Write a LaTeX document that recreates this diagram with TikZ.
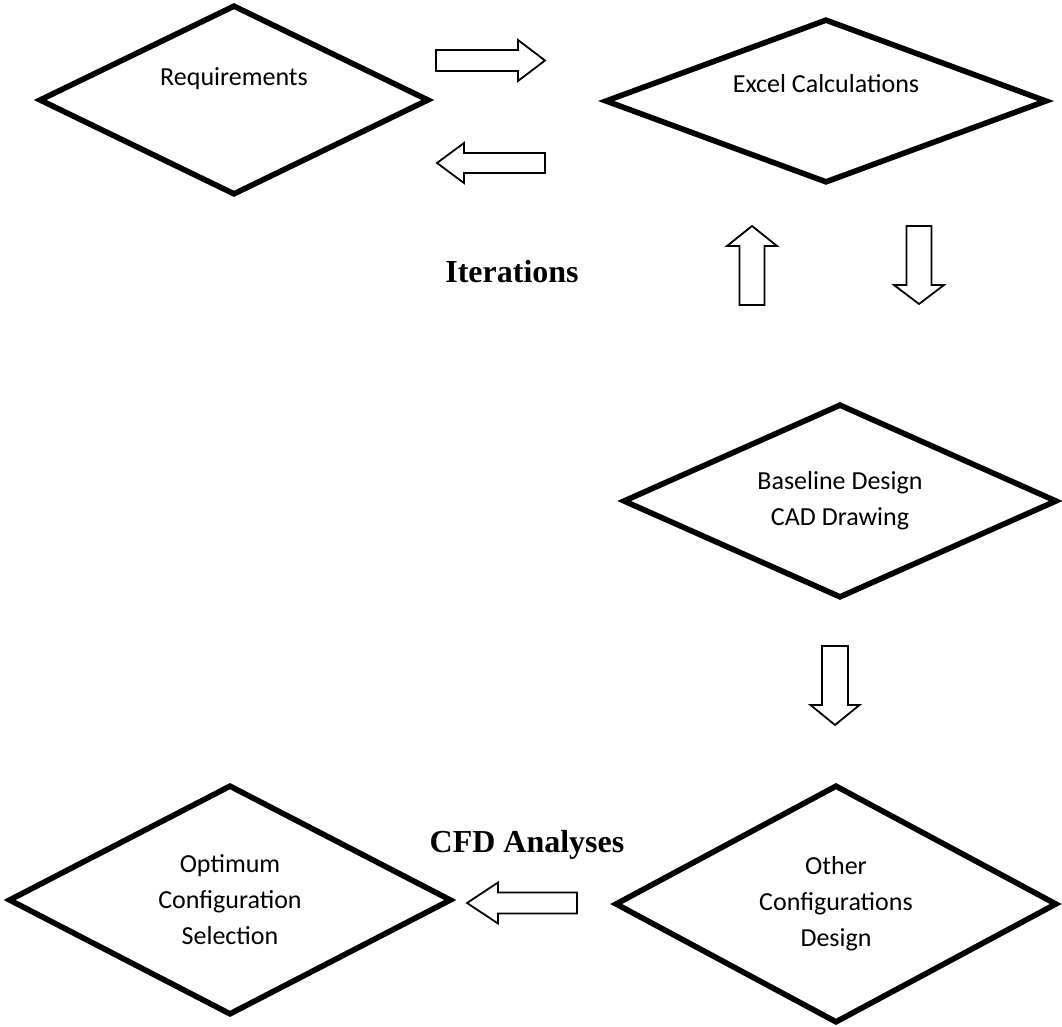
\documentclass[tikz,border=0pt]{standalone}
\usepackage{fontspec}
\setmainfont{Carlito}
\newfontfamily\labelfont{Liberation Serif}
\usetikzlibrary{shapes.geometric}

\tikzset{
  decision/.style={diamond,aspect=2,draw=black,line width=2.8pt,inner sep=0pt,align=center,
    font=\fontsize{13}{18}\selectfont},
  steplabel/.style={font=\labelfont\bfseries\fontsize{16}{19}\selectfont},
  hollow/.style={draw=black,line width=0.9pt,line join=miter},
}

% hollow block arrow: tail, angle, length, head length, shaft half width, head half width
\newcommand{\hollowarrow}[6]{%
  \draw[hollow,shift={#1},rotate=#2]
    (0,-#5) -- ({#3-#4},-#5) -- ({#3-#4},-#6) -- (#3,0)
    -- ({#3-#4},#6) -- ({#3-#4},#5) -- (0,#5) -- cycle;}

\begin{document}
\begin{tikzpicture}[x=0.5pt,y=-0.5pt]
  \useasboundingbox (0,0) rectangle (1062,1027);

  % decision boxes
  \node[decision,minimum width=195pt,minimum height=95pt] (req) at (234,100) {Requirements\\\strut};
  \node[decision,minimum width=221pt,minimum height=82pt] (excel) at (826,101) {Excel Calculations\\\mbox{}};
  \node[decision,minimum width=217pt,minimum height=97pt] (baseline) at (840,501) {Baseline Design\\CAD Drawing};
  \node[decision,minimum width=221pt,minimum height=119pt] (otherdes) at (836,904) {Other\\Configurations\\Design};
  \node[decision,minimum width=221.5pt,minimum height=115pt] (optimum) at (230,900) {Optimum\\Configuration\\Selection};

  % labels
  \node[steplabel] (iter) at (512,272) {Iterations};
  \node[steplabel] (cfd) at (527,845) {CFD Analyses};

  % block arrows
  \hollowarrow{(436,60.5)}{0}{109}{27}{10.5}{20.5}
  \hollowarrow{(545,163)}{180}{108}{27}{10}{20}
  \hollowarrow{(752,305)}{90}{79}{20}{12.5}{25}
  \hollowarrow{(919,226)}{-90}{78}{19}{12.5}{25}
  \hollowarrow{(835,646)}{-90}{79}{20}{13}{24.5}
  \hollowarrow{(577,903)}{180}{110}{31}{10.5}{20.5}
\end{tikzpicture}
\end{document}
